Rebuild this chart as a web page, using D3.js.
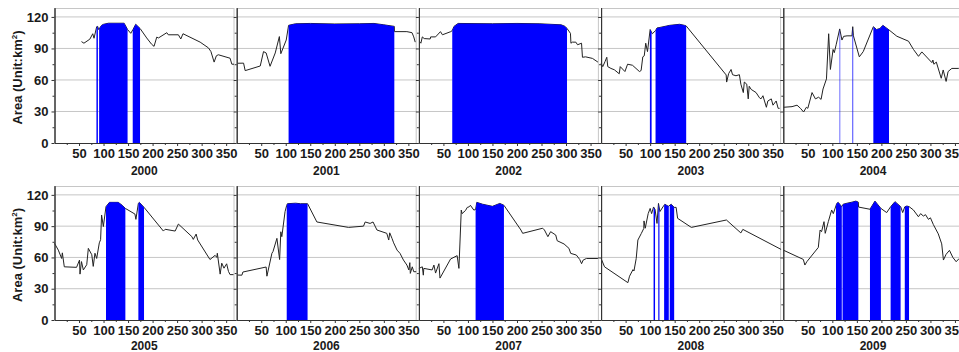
<!DOCTYPE html>
<html>
<head>
<meta charset="utf-8">
<script src="https://cdn.jsdelivr.net/npm/d3@7"></script>
<style>
  body { margin: 0; background: #fff; }
  svg { display: block; font-family: "Liberation Sans", Arial, sans-serif; }
  .axis text { font-size: 13px; font-weight: bold; fill: #1a1a1a; }
  .axis path, .axis line { stroke: #333; }
</style>
</head>
<body>
<div id="chart"></div>
<script>
// year labels (one panel per year)
const years = ["2000", "2001", "2002", "2003", "2004", "2005", "2006", "2007", "2008", "2009"];

// [day of year, area km2]
const s2000 = [[55,96.5],[60,95],[72,98.8],[78,104],[80.6,99.7],[86,110.7],[88,111],[90,108],[96,112],[100,113],[110,114],[142,114],[149,108],[155.5,104.4],[160,108],[165.6,113],[174.5,109],[188,100],[198,94],[203,92],[208.5,100.8],[212,100],[229,105],[232,103],[252.6,103],[257.5,99],[262,104],[297,96],[314,90.5],[319,87],[325.5,77],[330,83],[334,84],[358,80.7],[361.6,75],[366,75]];
const s2001 = [[1.6,75.9],[14,76],[17.3,68.9],[48,73.3],[54.7,87],[60,85.7],[68,73],[78.6,85.7],[87,101.3],[90,85],[101,98],[105.8,112],[120,113.5],[150,113.8],[200,113.3],[250,113.5],[280,113.8],[300,112.5],[321.4,111],[321.6,106],[347,106],[357.5,105],[361,101],[364,96]];
const s2002 = [[0.6,97],[4,95],[7,101],[10.8,99.4],[23,99],[24,101],[34,101],[44,106],[48,103],[65,106],[68,107],[71.6,111],[80,113.8],[150,113.5],[200,113.8],[245,113.5],[290,112.5],[298,111],[302,109],[309,104.4],[310,95],[313,96],[320,96],[323.5,93.5],[331.6,95],[333.5,81.6],[340,82],[354,80.5],[365,77]];
const s2003 = [[0,75.9],[3.4,72.7],[8,77.5],[11.6,81.6],[13.6,72.7],[20,71],[27,69.7],[37,65.9],[39,72.7],[48.6,68],[54,75],[64,74],[78.2,68],[81.6,69],[85,82],[88,83],[91,95],[94.6,87],[100,108],[104.5,104],[111,107],[114,109.5],[120,110],[140,112],[160,113],[170,112],[173.5,111.4],[255,64.8],[256,58],[260,66],[265,70],[268,65],[275,64],[282,65],[285,56],[290,48],[292,58],[297,56],[300,42],[302,54],[306,51],[316,48],[323,43],[326,42],[330,45],[337,34],[340,40],[347,42],[350.5,36],[357,40],[361,33],[364,33]];
const s2004 = [[0.6,34],[17.8,34.6],[28,36],[35,33],[41.4,29.5],[47,34],[50,33],[58.6,48],[65.5,42],[72,43.6],[77,41.5],[81,51.4],[88,61],[92.5,104],[96,70],[101.5,89],[104,86],[108,94],[115,108.6],[119.6,98],[123,101.5],[130,102],[140,102],[141.6,110.7],[143,102],[155,82],[163,87],[183.6,110.7],[190,108],[197,109],[203,112],[215.6,107.6],[231.6,101.6],[255.3,96.9],[265.5,89],[275.7,82.5],[282.5,86.7],[303,76.5],[305,79],[307,75],[312,77],[322,61.6],[326,69.5],[332,58.6],[336,68],[343.6,71],[357,71],[366,72]];
const s2005 = [[0,73.5],[7.8,67],[14.6,59],[16,64.4],[20,51],[45,50.5],[51,57.5],[52,44],[55,56],[58.8,48],[65.7,53],[69,68.7],[76,62.6],[79,51.4],[82.5,64],[86,59],[91.4,74],[94,77],[96,100.7],[99.6,89.6],[105,108.7],[112,112.8],[130,112.8],[138,110],[144.5,107],[164,101.6],[166,96.5],[171,111.9],[173,112.8],[182.6,108],[222,85.3],[225.6,87],[246,85.3],[252.6,92],[280,80],[283,77.3],[288.8,82.4],[292,76.7],[317,58],[327.5,62],[331,60],[332,64],[337.8,44],[341,54.5],[345.6,49.7],[351,53.9],[354.7,46.6],[358,43.5],[365,43.5]];
const s2006 = [[1.6,43.1],[10.6,43],[12.6,46],[60,50.8],[61.6,42],[71.8,64],[74,65.6],[82,78.3],[87.5,58],[90,84.6],[92,79.9],[98.6,103.9],[102,110],[103.4,111.5],[120,112],[130,111.5],[144.5,111.5],[163.5,94],[228,88.8],[258.6,90],[262,94],[272,92.6],[278,94],[286,86.3],[306,83.1],[310,76.7],[312,83.6],[316.7,78.2],[320,74],[327,67],[333,63.9],[340,57.5],[347,52.7],[351,48],[353,55],[354,44.7],[358,51],[361,46.3],[366,46.3]];
const s2007 = [[0,49.5],[7,51],[9,43],[10,49.5],[27,48],[30.6,52.7],[34,45],[40.8,54],[43,40.2],[64.6,58.5],[78,61.7],[81.6,49.5],[86.4,105.4],[88,102],[95,105],[98.6,108],[102,108.4],[105,110],[112,105.4],[115.6,106],[118,112.8],[130,111],[150,109],[165,111.8],[173.4,110],[208,86.3],[211.6,83.1],[252.4,88],[256,86.3],[263,79.9],[268.6,84.7],[279,81.5],[282,76],[296,72.9],[306,68.7],[309.5,63.9],[321,62.3],[328,58],[331.7,54],[335,57.5],[341.6,59],[365,59]];
const s2008 = [[0,59],[7,51],[54.6,35.8],[58,42],[65,48.3],[67,47],[71.6,59],[75,76.7],[82,83],[87,87.8],[87.5,95],[90,88],[96,102],[100,107],[103,102],[107,108.4],[110,106],[114,92.6],[117,111.8],[120,104],[126,108.4],[130,111],[137,109],[143,111],[149,108],[153,108],[156,97.5],[184,88.8],[255.5,95.9],[285,83.5],[289,86.9],[367,67.7]];
const s2009 = [[0,67],[40.8,58.1],[44,52.7],[48,55.9],[71.4,69.6],[75,86.3],[78,84.7],[83,94.3],[85.5,83.1],[91.8,94.3],[98.6,105.5],[102,102],[109,111.8],[112,112.8],[119,108.7],[122,111],[130,112],[140,113],[148,114],[153,113],[153.5,108.3],[176.7,106.2],[186.9,114],[199,107],[210.8,103],[219,108.7],[227.7,113.5],[239.3,108.7],[243.4,103],[247.7,108.5],[252,109.3],[256.5,108.7],[265.3,105.5],[275.5,99],[280,102],[285.6,99.7],[290,101],[295.9,96.5],[300,98],[306,91.5],[316,82.6],[323,73],[326.5,57.5],[332,63],[338.8,66.8],[345.7,60],[352.5,55.9],[358.6,59],[365,56]];

// blue (frozen) intervals, [start day, end day]
const b2000 = [[85.5,88.5],[91,149],[159.5,174.5]];
const b2001 = [[105.8,321.4]];
const b2002 = [[68,302]];
const b2003 = [[99.5,103],[111,173.5]];
const b2004 = [[114.5,116],[141,142.5],[183.6,215.6]];
const b2005 = [[105,144.5],[171,182.6]];
const b2006 = [[102,144.5]];
const b2007 = [[115.6,173.4]];
const b2008 = [[107,110],[116.6,119],[128.5,138],[140,149]];
const b2009 = [[107.5,119.3],[120.8,153],[176.7,199],[218.8,239.2],[247.7,256.5]];

const series = [s2000, s2001, s2002, s2003, s2004, s2005, s2006, s2007, s2008, s2009];
const blues = [b2000, b2001, b2002, b2003, b2004, b2005, b2006, b2007, b2008, b2009];

const xTicks = [50, 100, 150, 200, 250, 300, 350];
const xMinor = [25, 75, 125, 175, 225, 275, 325];
const yTicks = [0, 30, 60, 90, 120];
const yMinor = [15, 45, 75, 105];

const width = 959, height = 352;
const left0 = 54.5, pitch = 182.2, panelW = 179.5;
const rows = [{top: 8, bottom: 143, yearY: 175}, {top: 186, bottom: 320, yearY: 349.5}];

const svg = d3.select('#chart').append('svg')
    .attr('width', width)
    .attr('height', height);

const defs = svg.append('defs');

years.forEach(function(year, i) {
    const row = rows[Math.floor(i / 5)];
    const col = i % 5;
    const h = row.bottom - row.top;

    const x = d3.scaleLinear().domain([0, 366]).range([0, panelW]);
    const y = d3.scaleLinear().domain([0, 128.5]).range([h, 0]);

    const g = svg.append('g')
        .attr('transform', 'translate(' + (left0 + col * pitch) + ',' + row.top + ')');

    // grid + frame
    g.selectAll('.grid')
        .data([30, 60, 90, 120])
        .enter().append('line')
        .attr('x1', 0).attr('x2', panelW)
        .attr('y1', d => y(d)).attr('y2', d => y(d))
        .attr('stroke', '#c6c6c6');
    g.append('line').attr('x1', 0).attr('x2', panelW).attr('y1', 0.5).attr('y2', 0.5).attr('stroke', '#c6c6c6');
    g.append('line').attr('x1', panelW).attr('x2', panelW).attr('y1', 0).attr('y2', h).attr('stroke', '#c6c6c6');

    // data line
    const line = d3.line().x(d => x(d[0])).y(d => y(d[1]));
    g.append('path')
        .datum(series[i])
        .attr('fill', 'none')
        .attr('stroke', '#222')
        .attr('stroke-width', 1)
        .attr('d', line);

    // blue areas under the line, clipped to the frozen intervals
    const clipId = 'clip' + year;
    defs.append('clipPath').attr('id', clipId)
        .selectAll('rect')
        .data(blues[i])
        .enter().append('rect')
        .attr('x', d => x(d[0]))
        .attr('width', d => x(d[1]) - x(d[0]))
        .attr('y', 0)
        .attr('height', h);
    const area = d3.area().x(d => x(d[0])).y0(y(0)).y1(d => y(d[1]));
    g.append('path')
        .datum(series[i])
        .attr('clip-path', 'url(#' + clipId + ')')
        .attr('fill', '#0000ff')
        .attr('d', area);

    // axes
    g.append('g')
        .attr('class', 'axis')
        .call(d3.axisLeft(y).tickValues(yMinor).tickSize(2).tickSizeOuter(0).tickFormat(''));
    const ya = g.append('g')
        .attr('class', 'axis')
        .call(d3.axisLeft(y).tickValues(yTicks).tickSize(3).tickSizeOuter(0).tickPadding(3)
            .tickFormat(col === 0 ? d3.format('d') : ''));
    ya.select('.domain').attr('d', 'M0.5,0V' + h);

    g.append('g')
        .attr('class', 'axis')
        .attr('transform', 'translate(0,' + h + ')')
        .call(d3.axisBottom(x).tickValues(xMinor).tickSize(2).tickSizeOuter(0).tickFormat(''));
    g.append('g')
        .attr('class', 'axis')
        .attr('transform', 'translate(0,' + h + ')')
        .call(d3.axisBottom(x).tickValues(xTicks).tickSize(3).tickSizeOuter(0).tickPadding(3));

    svg.append('text')
        .attr('x', left0 + col * pitch + panelW / 2)
        .attr('y', row.yearY)
        .attr('text-anchor', 'middle')
        .style('font-size', '12px')
        .style('font-weight', 'bold')
        .attr('fill', '#1a1a1a')
        .text(year);

    if (col === 0) {
        const t = svg.append('text')
            .attr('transform', 'translate(22,' + ((row.top + row.bottom) / 2 + 2) + ') rotate(-90)')
            .attr('text-anchor', 'middle')
            .style('font-size', '13px')
            .style('font-weight', 'bold')
            .attr('fill', '#1a1a1a');
        t.append('tspan').text('Area (Unit:km');
        t.append('tspan').attr('dy', -5).style('font-size', '8px').text('2');
        t.append('tspan').attr('dy', 5).text(')');
    }
});
</script>
</body>
</html>
